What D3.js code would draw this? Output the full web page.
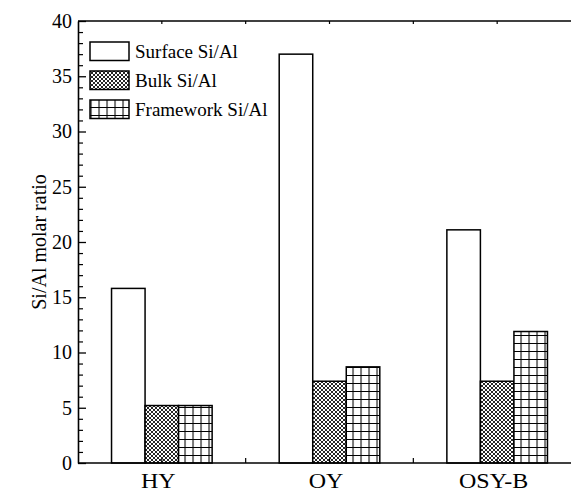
<!DOCTYPE html>
<html>
<head>
<meta charset="utf-8">
<script src="https://cdn.jsdelivr.net/npm/d3@7"></script>
<style>
  body { margin: 0; background: #fff; }
  svg { display: block; }
  text { font-family: "Liberation Serif", "Times New Roman", serif; fill: #000; }
</style>
</head>
<body>
<svg id="chart" width="571" height="492"></svg>
<script>
// data
const categories = ["HY", "OY", "OSY-B"];
const seriesNames = ["Surface Si/Al", "Bulk Si/Al", "Framework Si/Al"];
const surface = [15.8, 37.0, 21.1];
const bulk = [5.2, 7.4, 7.4];
const framework = [5.2, 8.7, 11.9];
const yTicks = [0, 5, 10, 15, 20, 25, 30, 35, 40];

const values = [surface, bulk, framework];
const fills = ["#fff", "url(#crossPat)", "url(#gridPat)"];

const svg = d3.select("#chart");
const plotLeft = 78, plotRight = 581, plotTop = 21, plotBottom = 463;

// patterns
const defs = svg.append("defs");
const cross = defs.append("pattern").attr("id", "crossPat")
    .attr("patternUnits", "userSpaceOnUse").attr("width", 4).attr("height", 4);
cross.append("rect").attr("width", 4).attr("height", 4).attr("fill", "#fff");
cross.append("path").attr("d", "M0,0L4,4M4,0L0,4M-1,3L1,5M3,-1L5,1M3,5L5,3M-1,1L1,-1")
    .attr("stroke", "#000").attr("stroke-width", 0.85);

const grid = defs.append("pattern").attr("id", "gridPat")
    .attr("patternUnits", "userSpaceOnUse").attr("width", 8).attr("height", 8)
    .attr("x", 0.5).attr("y", plotBottom % 8);
grid.append("rect").attr("width", 8).attr("height", 8).attr("fill", "#fff");
grid.append("path").attr("d", "M0.5,0V8M0,0.5H8")
    .attr("stroke", "#000").attr("stroke-width", 1.1);

const x0 = d3.scaleBand().domain(categories).range([plotLeft, plotRight])
    .paddingInner(0.4).paddingOuter(0.2);
const x1 = d3.scaleBand().domain(seriesNames).range([0, x0.bandwidth()]);
const y = d3.scaleLinear().domain([0, 40]).range([plotBottom, plotTop]);

// bars
seriesNames.forEach((s, si) => {
    svg.append("g").selectAll("rect")
        .data(categories.map((c, i) => ({ c: c, v: values[si][i] })))
        .enter().append("rect")
        .attr("x", d => x0(d.c) + x1(s))
        .attr("y", d => y(d.v))
        .attr("width", x1.bandwidth())
        .attr("height", d => y(0) - y(d.v))
        .attr("fill", fills[si])
        .attr("stroke", "#000")
        .attr("stroke-width", 1.5);
});

// left axis
const yAxis = svg.append("g").attr("transform", "translate(" + plotLeft + ",0)")
    .call(d3.axisLeft(y).tickValues(yTicks).tickSizeInner(-8).tickSizeOuter(0).tickPadding(6));
yAxis.select(".domain").attr("stroke", "#000").attr("stroke-width", 1.6);
yAxis.selectAll(".tick line").attr("stroke", "#000").attr("stroke-width", 1.3);
yAxis.selectAll(".tick text").attr("font-size", 20).attr("font-family", "Liberation Serif");

const minorY = d3.range(1, 40).filter(v => v % 5 !== 0);
svg.append("g").attr("transform", "translate(" + plotLeft + ",0)")
    .call(d3.axisLeft(y).tickValues(minorY).tickSize(-5).tickFormat(""))
    .call(g => g.select(".domain").remove())
    .selectAll(".tick line").attr("stroke", "#000").attr("stroke-width", 1.2);

// bottom and top lines
svg.append("line").attr("x1", plotLeft).attr("x2", plotRight).attr("y1", plotBottom).attr("y2", plotBottom)
    .attr("stroke", "#000").attr("stroke-width", 1.6);
svg.append("line").attr("x1", plotLeft).attr("x2", plotRight).attr("y1", plotTop).attr("y2", plotTop)
    .attr("stroke", "#000").attr("stroke-width", 1.6);

// x ticks: minor at category centers, major between categories
const centers = categories.map(c => x0(c) + x0.bandwidth() / 2);
const bounds = centers.slice(1).map((c, i) => (c + centers[i]) / 2);
svg.append("g").selectAll("line").data(centers).enter().append("line")
    .attr("x1", d => d).attr("x2", d => d).attr("y1", plotBottom).attr("y2", plotBottom - 4)
    .attr("stroke", "#000").attr("stroke-width", 1.2);
svg.append("g").selectAll("line").data(bounds).enter().append("line")
    .attr("x1", d => d).attr("x2", d => d).attr("y1", plotBottom).attr("y2", plotBottom - 5)
    .attr("stroke", "#000").attr("stroke-width", 1.2);
svg.append("g").selectAll("line").data(centers.concat(bounds)).enter().append("line")
    .attr("x1", d => d).attr("x2", d => d).attr("y1", plotTop).attr("y2", plotTop + 3)
    .attr("stroke", "#000").attr("stroke-width", 1.2);

// category labels (slightly wide, like the original)
svg.append("g").selectAll("text").data(categories).enter().append("text")
    .attr("transform", d => "translate(" + (x0(d) + x0.bandwidth() / 2 - 3.5) + ",488) scale(1.2,1)")
    .attr("text-anchor", "middle")
    .attr("font-size", 20)
    .text(d => d);

// y title
svg.append("text")
    .attr("transform", "translate(46," + ((plotTop + plotBottom) / 2) + ") rotate(-90)")
    .attr("text-anchor", "middle")
    .attr("font-size", 20)
    .text("Si/Al molar ratio");

// legend
const legend = svg.append("g").selectAll("g").data(seriesNames).enter().append("g")
    .attr("transform", (d, i) => "translate(90," + (42 + i * 29) + ")");
legend.append("rect")
    .attr("width", 39).attr("height", 18.5)
    .attr("fill", (d, i) => fills[i])
    .attr("stroke", "#000").attr("stroke-width", 1.5);
legend.append("text")
    .attr("x", 45).attr("y", 16)
    .attr("font-size", 19)
    .text(d => d);
</script>
</body>
</html>
